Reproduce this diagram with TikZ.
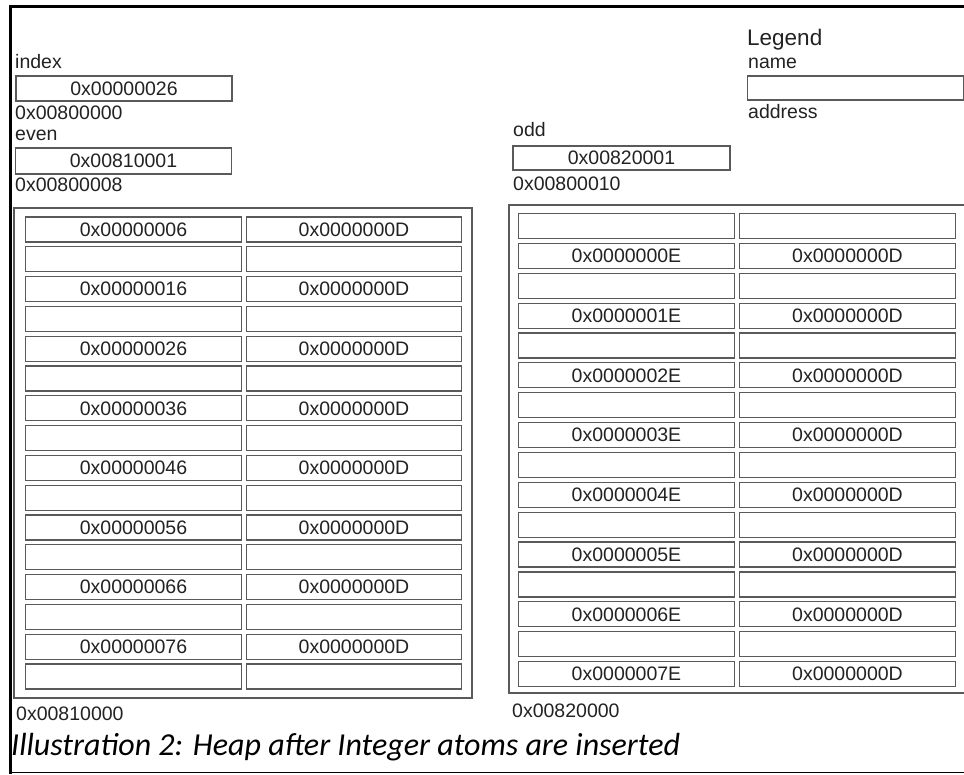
\documentclass[tikz,border=0pt]{standalone}
\usepackage{fontspec}
\setmainfont{Liberation Sans}
\newfontfamily\capfont{Carlito}
\definecolor{boxline}{HTML}{5A5A5A}
\definecolor{txt}{HTML}{222222}
\begin{document}
\begin{tikzpicture}[x=1pt,y=-1pt,
  cell/.style={draw=boxline,line width=1.2pt,minimum width=215.5pt,minimum height=25pt,inner sep=0pt,font=\fontsize{19.5}{22}\selectfont,text=txt},
  lbl/.style={anchor=base west,inner sep=0pt,font=\fontsize{19.5}{22}\selectfont,text=txt},
  heapbox/.style={draw=boxline,line width=1.2pt,inner sep=0pt},
  frameline/.style={draw=black,line cap=rect}]
\clip (0,0) rectangle (964,774);
% frame
\coordinate (ftl) at (10,6.7);
\coordinate (ftr) at (966,6.7);
\coordinate (fbl) at (10,772.6);
\coordinate (fbr) at (966,772.6);
\draw[frameline,line width=3pt] (fbl) -- (ftl) -- (ftr);
\draw[frameline,line width=1.5pt] (fbl) -- (fbr);
% globals
\node[lbl] (indexname) at (15,68) {index};
\node[cell,minimum width=216pt] (index) at (124,88.5) {0x00000026};
\node[lbl] (indexaddr) at (15,119.3) {0x00800000};
\node[lbl] (evenname) at (15,140) {even};
\node[cell,minimum height=26pt] (even) at (123.5,161) {0x00810001};
\node[lbl] (evenaddr) at (15,191.5) {0x00800008};
\node[lbl] (oddname) at (513,136.7) {odd};
\node[cell,minimum width=217pt,minimum height=24pt] (odd) at (621.5,158) {0x00820001};
\node[lbl] (oddaddr) at (513,190) {0x00800010};
% legend
\node[lbl,font=\fontsize{22.5}{26}\selectfont] (legend) at (747,45) {Legend};
\node[lbl] (legname) at (748,68) {name};
\node[cell,minimum height=24pt] (legbox) at (855.5,88) {};
\node[lbl] (legaddr) at (748,118) {address};
% heaps
\node[heapbox,minimum width=458pt,minimum height=490pt] (heapL) at (243,453) {};
\node[heapbox,minimum width=466pt,minimum height=488pt] (heapR) at (742,449) {};
\foreach \i in {0,...,15}{
  \pgfmathtruncatemacro\k{\i/2}
  \pgfmathsetmacro\yl{229.5+29.8*\i}
  \pgfmathsetmacro\yr{226+29.87*\i}
  \ifodd\i\relax
    \node[cell] (L\i-a) at (133.5,\yl) {};
    \node[cell] (L\i-b) at (354,\yl) {};
    \node[cell] (R\i-a) at (626.5,\yr) {0x000000\k E};
    \node[cell] (R\i-b) at (847.5,\yr) {0x0000000D};
  \else
    \node[cell] (L\i-a) at (133.5,\yl) {0x000000\k 6};
    \node[cell] (L\i-b) at (354,\yl) {0x0000000D};
    \node[cell] (R\i-a) at (626.5,\yr) {};
    \node[cell] (R\i-b) at (847.5,\yr) {};
  \fi
}
\node[lbl] (heapLaddr) at (16,720.7) {0x00810000};
\node[lbl] (heapRaddr) at (512,717) {0x00820000};
% caption
\node[anchor=base west,inner sep=0pt,text=black,font=\capfont\itshape\fontsize{32}{38}\selectfont] (caption) at (11,755) {Illustration 2: Heap after Integer atoms are inserted};
\end{tikzpicture}
\end{document}
